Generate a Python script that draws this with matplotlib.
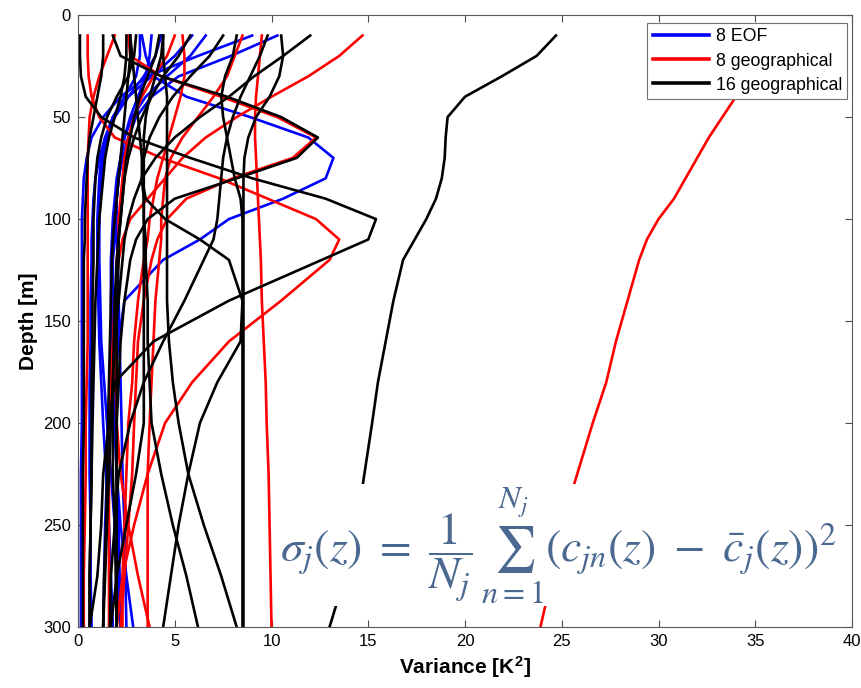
import matplotlib
matplotlib.use("Agg")
import matplotlib.pyplot as plt

plt.rcParams['font.family'] = ['Liberation Sans', 'DejaVu Sans']
plt.rcParams['mathtext.fontset'] = 'stix'

# depth levels [m] shared by every profile
depth = [10, 20, 30, 40, 50, 60, 70, 80, 90, 100, 110, 120, 140, 160, 180, 200, 225, 250, 275, 300]

# variance profiles [K^2], one list per cluster
eof_8 = [
    [3.3, 3.5, 3.9, 5.6, 8.9, 11.9, 13.2, 12.8, 10.6, 7.8, 6.3, 4.4, 2.4, 2.1, 1.9, 1.9, 2.0, 2.2, 2.5, 2.85],
    [10.3, 7.9, 5.2, 3.8, 3.0, 2.6, 2.3, 2.1, 2.0, 1.9, 1.9, 1.8, 1.8, 1.7, 1.7, 1.6, 1.5, 1.4, 1.35, 1.3],
    [9.0, 6.2, 3.6, 2.2, 1.3, 0.7, 0.45, 0.3, 0.25, 0.2, 0.2, 0.2, 0.2, 0.2, 0.2, 0.2, 0.15, 0.15, 0.15, 0.15],
    [6.6, 5.8, 4.6, 3.5, 2.8, 2.4, 2.2, 2.0, 1.9, 1.8, 1.75, 1.7, 1.7, 1.75, 1.8, 1.9, 2.0, 2.1, 2.15, 2.2],
    [5.9, 5.0, 3.8, 2.6, 1.8, 1.4, 1.2, 1.1, 1.05, 1.0, 1.0, 1.0, 1.05, 1.1, 1.2, 1.3, 1.45, 1.6, 1.7, 1.8],
    [4.3, 4.0, 3.4, 2.6, 1.9, 1.4, 1.1, 0.9, 0.8, 0.75, 0.7, 0.7, 0.65, 0.65, 0.6, 0.6, 0.6, 0.65, 0.65, 0.7],
    [3.8, 3.7, 3.5, 3.1, 2.7, 2.4, 2.2, 2.1, 2.0, 2.0, 2.0, 2.05, 2.1, 2.15, 2.2, 2.25, 2.3, 2.4, 2.45, 2.5],
    [3.2, 3.2, 3.0, 2.4, 1.8, 1.5, 1.3, 1.2, 1.15, 1.1, 1.1, 1.1, 1.15, 1.2, 1.35, 1.5, 1.7, 1.9, 2.05, 2.2],
]

geo_8 = [
    [14.7, 13.5, 11.9, 10.0, 8.2, 6.6, 5.4, 4.5, 3.6, 2.7, 2.3, 2.1, 1.9, 1.8, 1.7, 1.65, 1.6, 1.6, 1.6, 1.6],
    [0.5, 0.5, 0.55, 0.7, 1.1, 1.9, 4.3, 7.3, 9.8, 12.3, 13.5, 13.0, 10.5, 7.8, 5.9, 4.5, 3.6, 2.9, 2.3, 2.0],
    [9.5, 9.4, 9.3, 9.2, 9.15, 9.15, 9.2, 9.25, 9.3, 9.35, 9.4, 9.45, 9.5, 9.6, 9.7, 9.75, 9.85, 9.9, 9.95, 10.0],
    [8.5, 8.1, 7.7, 7.0, 6.2, 5.4, 4.8, 4.5, 4.4, 4.3, 4.3, 4.2, 4.0, 3.9, 3.8, 3.7, 3.6, 3.6, 3.6, 3.6],
    [5.4, 5.5, 5.5, 5.3, 5.0, 4.7, 4.4, 4.1, 3.9, 3.7, 3.6, 3.4, 3.1, 2.9, 2.8, 2.6, 2.5, 2.4, 2.3, 2.3],
    [2.6, 2.7, 4.3, 7.4, 10.3, 12.3, 11.1, 8.0, 5.6, 4.6, 4.1, 3.8, 3.4, 3.1, 3.0, 2.9, 2.8, 2.6, 2.4, 2.2],
    [1.9, 1.5, 1.1, 0.8, 0.6, 0.55, 0.5, 0.5, 0.5, 0.5, 0.5, 0.5, 0.5, 0.5, 0.45, 0.4, 0.4, 0.35, 0.3, 0.3],
    [5.0, 4.6, 3.9, 3.3, 2.9, 2.6, 2.4, 2.3, 2.2, 2.1, 2.1, 2.0, 2.0, 1.95, 1.95, 2.0, 2.2, 2.6, 3.1, 3.7],
]

geo_16 = [
    [0.1, 0.1, 0.15, 0.4, 1.2, 2.9, 5.8, 9.0, 12.8, 15.4, 15.0, 12.6, 7.8, 3.9, 1.9, 1.6, 1.3, 1.2, 1.0, 0.6],
    [1.8, 2.2, 4.3, 7.7, 10.5, 12.4, 11.3, 8.2, 5.0, 3.6, 3.0, 2.7, 2.4, 2.2, 2.1, 2.0, 2.0, 2.0, 2.0, 2.0],
    [10.5, 10.6, 10.4, 9.9, 9.2, 8.8, 8.6, 8.55, 8.55, 8.55, 8.55, 8.55, 8.55, 8.55, 8.55, 8.55, 8.55, 8.55, 8.55, 8.55],
    [12.0, 10.6, 9.1, 7.8, 6.3, 5.0, 4.0, 3.3, 2.9, 2.6, 2.4, 2.3, 2.1, 1.9, 1.8, 1.7, 1.6, 1.5, 1.4, 1.3],
    [9.8, 9.4, 8.9, 8.4, 8.0, 7.7, 7.5, 7.4, 7.3, 7.2, 7.0, 6.5, 5.5, 4.4, 3.4, 2.7, 2.1, 1.9, 1.7, 1.65],
    [7.5, 6.8, 5.8, 4.9, 4.2, 3.7, 3.4, 3.3, 3.5, 4.5, 6.3, 7.8, 8.5, 8.4, 7.2, 6.3, 5.7, 5.2, 4.8, 4.4],
    [4.4, 4.4, 4.5, 4.6, 4.6, 4.6, 4.6, 4.6, 4.6, 4.6, 4.6, 4.6, 4.6, 4.7, 4.9, 5.2, 5.7, 6.5, 7.4, 8.2],
    [2.7, 2.8, 2.9, 3.0, 3.1, 3.2, 3.3, 3.3, 3.4, 3.4, 3.5, 3.5, 3.6, 3.6, 3.7, 3.8, 4.3, 4.9, 5.6, 6.2],
    [8.2, 8.0, 7.6, 7.4, 7.5, 7.7, 7.9, 8.1, 8.4, 8.5, 8.5, 8.5, 8.5, 8.5, 8.5, 8.5, 8.5, 8.5, 8.5, 8.5],
    [1.3, 1.3, 1.2, 1.0, 0.8, 0.6, 0.5, 0.45, 0.4, 0.35, 0.35, 0.3, 0.3, 0.3, 0.3, 0.3, 0.25, 0.25, 0.25, 0.25],
    [2.5, 2.5, 2.4, 2.2, 1.9, 1.6, 1.4, 1.3, 1.2, 1.1, 1.05, 1.0, 0.9, 0.85, 0.8, 0.75, 0.7, 0.65, 0.6, 0.6],
    [2.7, 2.7, 2.6, 2.5, 2.4, 2.3, 2.2, 2.1, 2.0, 1.9, 1.8, 1.75, 1.7, 1.65, 1.6, 1.55, 1.5, 1.45, 1.35, 1.3],
    [4.2, 4.0, 3.6, 3.2, 2.9, 2.7, 2.5, 2.4, 2.3, 2.2, 2.1, 2.0, 1.9, 1.85, 1.8, 1.8, 1.8, 1.9, 1.95, 2.0],
    [4.4, 4.3, 4.0, 3.7, 3.5, 3.4, 3.4, 3.4, 3.4, 3.4, 3.4, 3.4, 3.4, 3.4, 3.4, 3.4, 3.0, 2.5, 2.0, 1.7],
    [3.0, 2.9, 2.6, 2.0, 1.5, 1.2, 1.0, 0.9, 0.85, 0.8, 0.8, 0.8, 0.75, 0.75, 0.7, 0.7, 0.7, 0.65, 0.6, 0.6],
    [5.8, 5.2, 4.4, 3.8, 3.3, 2.9, 2.6, 2.4, 2.3, 2.2, 2.1, 2.1, 2.0, 2.0, 2.0, 2.0, 2.0, 2.0, 2.0, 2.0],
]

# total variance of the 16 geographical clusters and of the 8 geographical clusters
total_16 = [24.7, 23.7, 21.9, 20.0, 19.1, 19.0, 18.95, 18.8, 18.5, 18.0, 17.4, 16.8, 16.3, 15.9, 15.5, 15.2, 14.8, 14.4, 13.8, 13.0]
total_8 = [37.5, 36.5, 35.3, 34.0, 33.3, 32.6, 32.0, 31.4, 30.8, 30.0, 29.4, 29.0, 28.4, 27.8, 27.3, 26.6, 25.8, 25.0, 24.5, 23.9]

fig, ax = plt.subplots(1, 1, figsize=(8.62, 6.88), dpi=100)
plt.subplots_adjust(left=0.0905, right=0.9884, bottom=0.0887, top=0.978)

lw = 1.9
for i, prof in enumerate(eof_8):
    ax.plot(prof, depth, color="#0000ff", lw=lw, label="8 EOF" if i == 0 else None)
for i, prof in enumerate(geo_8):
    ax.plot(prof, depth, color="#ff0000", lw=lw, label="8 geographical" if i == 0 else None)
ax.plot(total_8, depth, color="#ff0000", lw=lw)
for i, prof in enumerate(geo_16):
    ax.plot(prof, depth, color="#000000", lw=lw, label="16 geographical" if i == 0 else None)
ax.plot(total_16, depth, color="#000000", lw=lw)

ax.set_xlim(0, 40)
ax.set_ylim(300, 0)
ax.set_xticks(range(0, 41, 5))
ax.set_yticks(range(0, 301, 50))
ax.tick_params(direction="in", top=True, right=True, length=5, labelsize=12, pad=5, color="0.3")
for s in ax.spines.values():
    s.set_color("0.35")
ax.set_xlabel("Variance [K$^\\mathregular{2}$]", fontsize=15, fontweight="bold", labelpad=4)
ax.set_ylabel("Depth [m]", fontsize=15, fontweight="bold", labelpad=4)

leg = ax.legend(loc="upper right", bbox_to_anchor=(0.994, 0.987), fontsize=12.8, handlelength=3.2,
                fancybox=False, framealpha=1, edgecolor="0.45", borderaxespad=0,
                labelspacing=0.4, handletextpad=0.35, borderpad=0.3)
leg.get_frame().set_linewidth(0.8)
for h in leg.legend_handles:
    h.set_linewidth(2.6)

formula = (r"$\sigma_j(z)\ =\ \dfrac{1}{N_j}\,\sum_{n=1}^{N_j}"
           r"\left(c_{jn}(z)\ -\ \bar{c}_j(z)\right)^2$")
ax.text(0.621, 0.134, formula, transform=ax.transAxes, ha="center", va="center",
        fontsize=33, color="#4a6890", zorder=5,
        bbox=dict(facecolor="white", edgecolor="none", boxstyle="square,pad=0.02"))

plt.savefig("out.png", dpi=100)
